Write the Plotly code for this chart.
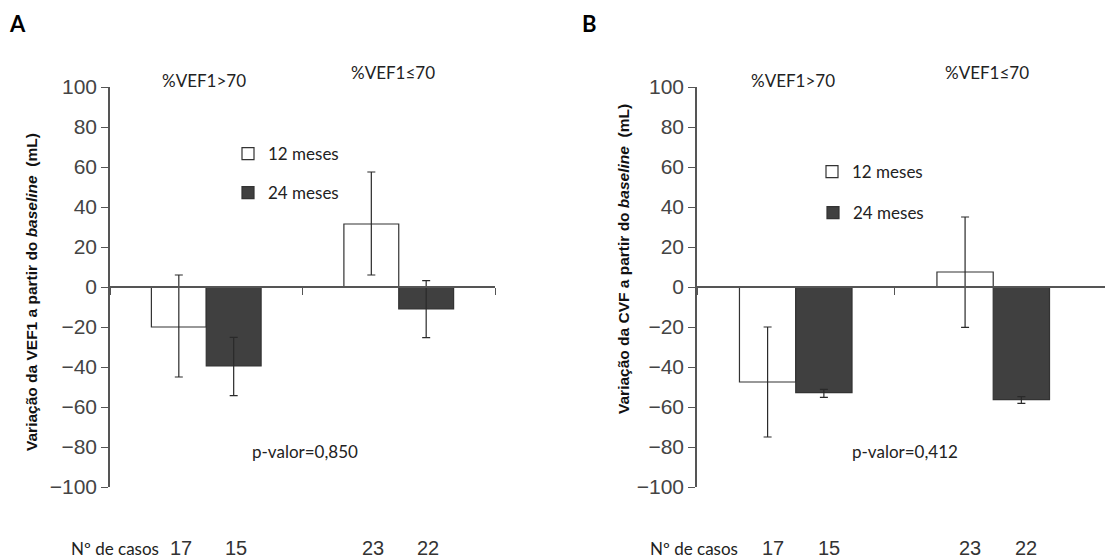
import plotly.graph_objects as go

W, H = 1105, 558

groups = ["%VEF1>70", "%VEF1≤70"]
series_names = ["12 meses", "24 meses"]

# Panel A: VEF1 change (mL)
a_12 = [-20.0, 31.5]
a_12_plus = [26.0, 26.0]
a_12_minus = [25.0, 25.5]
a_24 = [-39.5, -11.0]
a_24_plus = [14.3, 14.2]
a_24_minus = [14.8, 14.3]
a_cases_12 = [17, 23]
a_cases_24 = [15, 22]
a_pvalue = "p-valor=0,850"

# Panel B: CVF change (mL)
b_12 = [-47.5, 7.5]
b_12_plus = [27.5, 27.5]
b_12_minus = [27.5, 27.7]
b_24 = [-52.8, -56.3]
b_24_plus = [1.6, 1.5]
b_24_minus = [2.4, 1.9]
b_cases_12 = [17, 23]
b_cases_24 = [15, 22]
b_pvalue = "p-valor=0,412"

y_ticks = list(range(-100, 101, 20))

def px(x):
    return x / W

def py(y):
    return 1 - y / H

LATO = "Lato"
ARIAL = "Liberation Sans"
BAR_W = 0.285
xpos = [0, 1]

fig = go.Figure()

def add_bars(xa, ya, vals, plus, minus, color, name, legend):
    fig.add_trace(go.Bar(
        x=xpos, y=vals, name=name, xaxis=xa, yaxis=ya, legend=legend,
        showlegend=True,
        marker=dict(color=color, line=dict(color="#333333", width=1.2)),
        error_y=dict(type="data", symmetric=False, array=plus, arrayminus=minus,
                     color="#2a2a2a", thickness=1.2, width=4),
        offsetgroup=name, width=BAR_W,
        offset=(-BAR_W if name == series_names[0] else 0),
        hoverinfo="skip",
    ))

add_bars("x", "y", a_12, a_12_plus, a_12_minus, "white", series_names[0], "legend")
add_bars("x", "y", a_24, a_24_plus, a_24_minus, "#404040", series_names[1], "legend2")
add_bars("x2", "y2", b_12, b_12_plus, b_12_minus, "white", series_names[0], "legend3")
add_bars("x2", "y2", b_24, b_24_plus, b_24_minus, "#404040", series_names[1], "legend4")

ydom = [py(487), py(87)]
axis_col = "#555555"

common_y = dict(range=[-100, 100], tickvals=y_ticks, ticks="outside", ticklen=7,
                tickcolor=axis_col, tickwidth=1.3, showline=True, linecolor=axis_col,
                linewidth=1.5, showgrid=False, zeroline=False, automargin=False,
                tickfont=dict(family=ARIAL, size=21, color="#444444"), domain=ydom)

common_x = dict(showline=True, linecolor=axis_col, linewidth=1.5, ticks="outside",
                ticklen=7, tickcolor=axis_col, tickwidth=1.3, showticklabels=False,
                showgrid=False, zeroline=False, anchor="free", position=py(287),
                automargin=False)

fig.update_layout(
    width=W, height=H, margin=dict(l=0, r=0, t=0, b=0, pad=0, autoexpand=False),
    paper_bgcolor="white", plot_bgcolor="rgba(0,0,0,0)",
    barmode="overlay", showlegend=True,
    xaxis=dict(domain=[px(110), px(495)], range=[-0.5, 1.5], tickvals=[-0.5, 0.5, 1.5], **common_x),
    yaxis=dict(anchor="x", **common_y),
    xaxis2=dict(domain=[px(697), 1.0], range=[-0.5, 1.566], tickvals=[-0.5, 0.5], **common_x),
    yaxis2=dict(anchor="x2", **common_y),
)

leg_common = dict(xanchor="left", yanchor="middle", bgcolor="rgba(0,0,0,0)",
                  font=dict(family=LATO, size=17, color="#222222"), itemwidth=30)
fig.update_layout(
    legend=dict(x=px(228), y=py(154), **leg_common),
    legend2=dict(x=px(228), y=py(193), **leg_common),
    legend3=dict(x=px(812), y=py(172), **leg_common),
    legend4=dict(x=px(813), y=py(213), **leg_common),
)

ann = []
def text(x, y, s, size=17, family=LATO, color="#222222", **kw):
    ann.append(dict(x=px(x), y=py(y), xref="paper", yref="paper", text=s, showarrow=False,
                    font=dict(family=family, size=size, color=color),
                    xanchor=kw.pop("xanchor", "center"), yanchor=kw.pop("yanchor", "middle"), **kw))

# panel letters
text(17, 23, "<b>A</b>", size=22, color="#000000")
text(589, 23, "<b>B</b>", size=22, color="#000000")

# group labels
text(204, 80, groups[0])
text(393, 73, groups[1])
text(793, 80, groups[0])
text(987, 73, groups[1])

# p-values
text(305, 451, a_pvalue)
text(905, 451, b_pvalue)

# y titles
text(31, 292, "<b>Variação da VEF1 a partir do <i>baseline</i>  (mL)</b>", size=15.5,
     family=ARIAL, color="#111111", textangle=-90)
text(623, 259, "<b>Variação da CVF a partir do <i>baseline</i>  (mL)</b>", size=15.5,
     family=ARIAL, color="#111111", textangle=-90)

# cases row
text(115, 548, "Nº de casos", xanchor="center")
text(694, 548, "Nº de casos", xanchor="center")

for xa, c12, c24, shift in (("x", a_cases_12, a_cases_24, 2), ("x2", b_cases_12, b_cases_24, 5)):
    for i in range(len(xpos)):
        for c, off in ((c12[i], -BAR_W / 2), (c24[i], BAR_W / 2)):
            ann.append(dict(x=xpos[i] + off, y=py(548), xref=xa, yref="paper", text=str(c),
                            showarrow=False, xshift=shift,
                            font=dict(family=ARIAL, size=20, color="#333333"),
                            xanchor="center", yanchor="middle"))

fig.update_layout(annotations=ann)

fig.write_html("out.html", config={"displayModeBar": False},
               post_script="document.body.style.margin='0';")
